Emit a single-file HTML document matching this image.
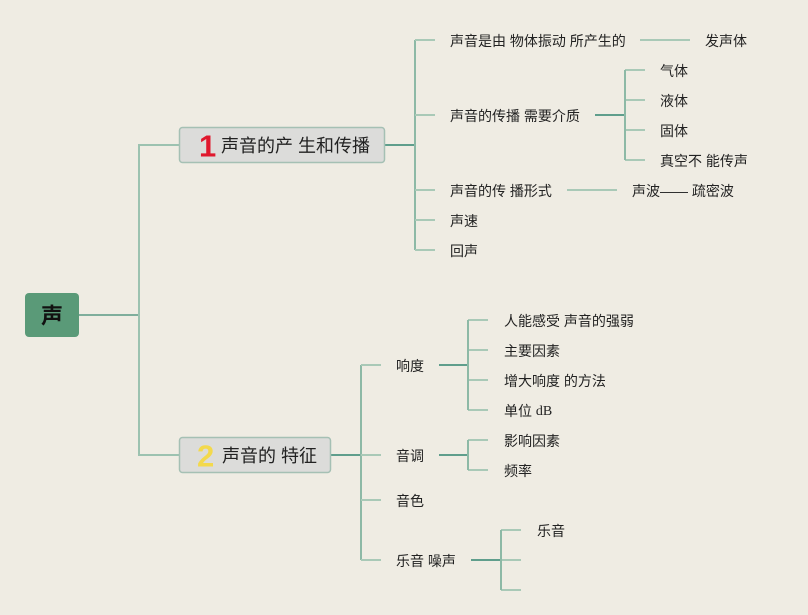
<!DOCTYPE html>
<html><head><meta charset="utf-8"><style>
html,body{margin:0;padding:0;background:#efece3;}
svg{display:block;}
text{font-family:"Liberation Sans","Noto Sans CJK SC",sans-serif;fill:#222;}
</style></head><body>
<svg width="808" height="615" viewBox="0 0 808 615" xmlns="http://www.w3.org/2000/svg">
<rect width="808" height="615" fill="#efece3"/>
<g fill="none" stroke-width="2">
  <line x1="79" y1="315" x2="139" y2="315" stroke="#7fae9c"/>
  <line x1="139" y1="144" x2="139" y2="456" stroke="#9cc2b0"/>
  <line x1="139" y1="145" x2="179" y2="145" stroke="#9cc2b0"/>
  <line x1="139" y1="455" x2="179" y2="455" stroke="#9cc2b0"/>

  <line x1="385" y1="145" x2="415" y2="145" stroke="#5f9e8c"/>
  <line x1="415" y1="40" x2="415" y2="250" stroke="#8db9a6"/>
  <g stroke="#a9c9b7">
    <line x1="415" y1="40" x2="435" y2="40"/>
    <line x1="415" y1="115" x2="435" y2="115"/>
    <line x1="415" y1="190" x2="435" y2="190"/>
    <line x1="415" y1="220" x2="435" y2="220"/>
    <line x1="415" y1="250" x2="435" y2="250"/>
    <line x1="640" y1="40" x2="690" y2="40"/>
    <line x1="567" y1="190" x2="617" y2="190"/>
    <line x1="625" y1="70" x2="645" y2="70"/>
    <line x1="625" y1="100" x2="645" y2="100"/>
    <line x1="625" y1="130" x2="645" y2="130"/>
    <line x1="625" y1="160" x2="645" y2="160"/>
  </g>
  <line x1="595" y1="115" x2="625" y2="115" stroke="#5f9e8c"/>
  <line x1="625" y1="70" x2="625" y2="160" stroke="#8db9a6"/>

  <line x1="331" y1="455" x2="361" y2="455" stroke="#5f9e8c"/>
  <line x1="361" y1="365" x2="361" y2="560" stroke="#8db9a6"/>
  <g stroke="#a9c9b7">
    <line x1="361" y1="365" x2="381" y2="365"/>
    <line x1="361" y1="455" x2="381" y2="455"/>
    <line x1="361" y1="500" x2="381" y2="500"/>
    <line x1="361" y1="560" x2="381" y2="560"/>
    <line x1="468" y1="320" x2="488" y2="320"/>
    <line x1="468" y1="350" x2="488" y2="350"/>
    <line x1="468" y1="380" x2="488" y2="380"/>
    <line x1="468" y1="410" x2="488" y2="410"/>
    <line x1="468" y1="440" x2="488" y2="440"/>
    <line x1="468" y1="470" x2="488" y2="470"/>
    <line x1="501" y1="530" x2="521" y2="530"/>
    <line x1="501" y1="560" x2="521" y2="560"/>
    <line x1="501" y1="590" x2="521" y2="590"/>
  </g>
  <line x1="439" y1="365" x2="468" y2="365" stroke="#5f9e8c"/>
  <line x1="468" y1="320" x2="468" y2="410" stroke="#8db9a6"/>
  <line x1="439" y1="455" x2="468" y2="455" stroke="#5f9e8c"/>
  <line x1="468" y1="440" x2="468" y2="470" stroke="#8db9a6"/>
  <line x1="471" y1="560" x2="501" y2="560" stroke="#5f9e8c"/>
  <line x1="501" y1="530" x2="501" y2="590" stroke="#8db9a6"/>
</g>

<rect x="25" y="293" width="54" height="44" rx="4" fill="#5a9a78"/>
<text x="52" y="316" font-size="22" font-weight="bold" text-anchor="middle" dominant-baseline="central" style="fill:#111">声</text>

<rect x="179.5" y="127.5" width="205" height="35" rx="3" fill="#dcdcda" stroke="#a5c0b4" stroke-width="1.5"/>
<text x="199" y="146" font-size="31" font-weight="bold" dominant-baseline="central" style="fill:#e0182d">1</text>
<text x="221" y="146" font-size="18" dominant-baseline="central">声音的产 生和传播</text>

<rect x="179.5" y="437.5" width="151" height="35" rx="3" fill="#dcdcda" stroke="#a5c0b4" stroke-width="1.5"/>
<text x="197" y="456" font-size="31" font-weight="bold" dominant-baseline="central" style="fill:#f3d94c">2</text>
<text x="222" y="456" font-size="18" dominant-baseline="central">声音的 特征</text>

<g font-size="14" dominant-baseline="central">
  <text x="450" y="41">声音是由 物体振动 所产生的</text>
  <text x="705" y="41">发声体</text>
  <text x="450" y="116">声音的传播 需要介质</text>
  <text x="660" y="71">气体</text>
  <text x="660" y="101">液体</text>
  <text x="660" y="131">固体</text>
  <text x="660" y="161">真空不 能传声</text>
  <text x="450" y="191">声音的传 播形式</text>
  <text x="632" y="191">声波—— 疏密波</text>
  <text x="450" y="221">声速</text>
  <text x="450" y="251">回声</text>

  <text x="396" y="366">响度</text>
  <text x="504" y="321">人能感受 声音的强弱</text>
  <text x="504" y="351">主要因素</text>
  <text x="504" y="381">增大响度 的方法</text>
  <text x="504" y="411">单位 <tspan style="font-family:'Liberation Serif',serif">dB</tspan></text>
  <text x="396" y="456">音调</text>
  <text x="504" y="441">影响因素</text>
  <text x="504" y="471">频率</text>
  <text x="396" y="501">音色</text>
  <text x="396" y="561">乐音 噪声</text>
  <text x="537" y="531">乐音</text>
</g>
</svg>
</body></html>
